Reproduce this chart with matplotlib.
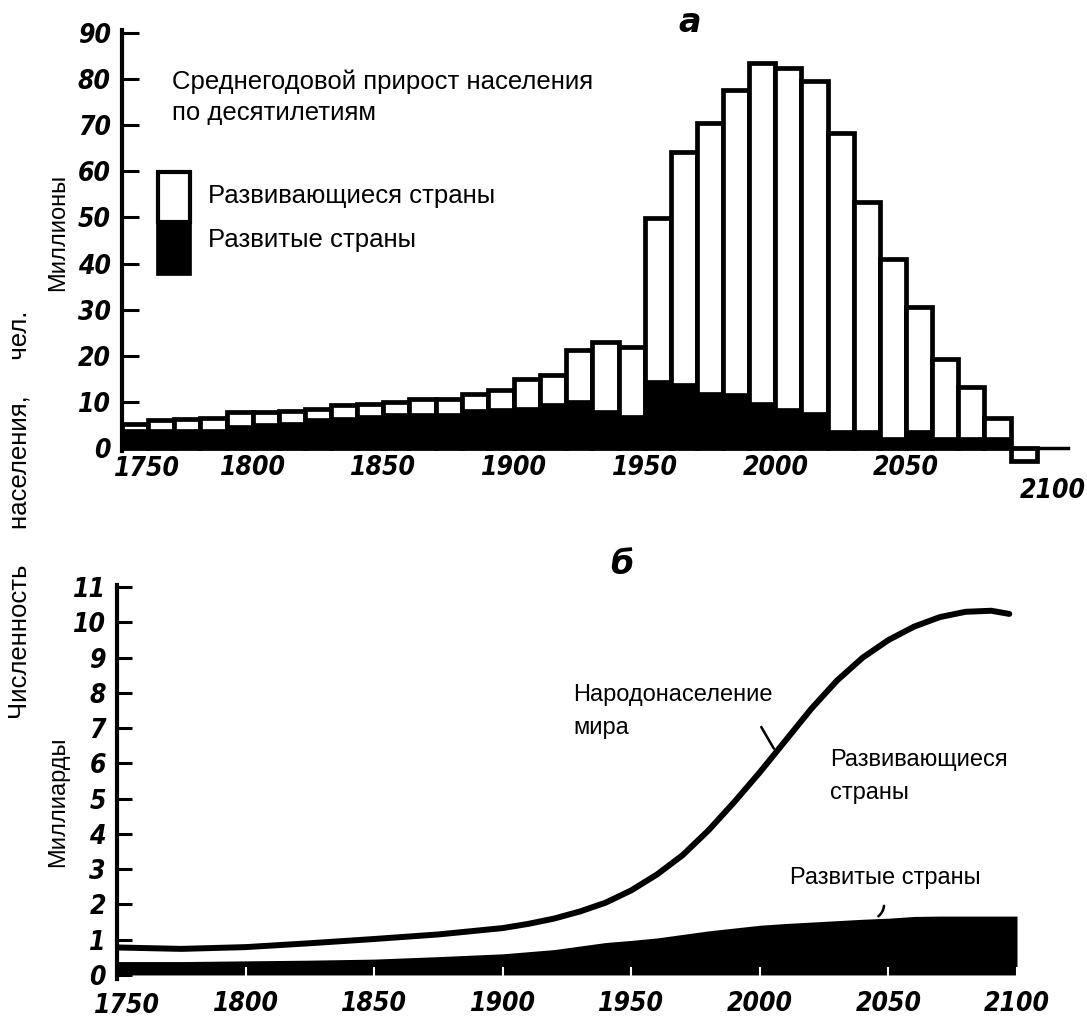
import numpy as np
import matplotlib
matplotlib.use("Agg")
import matplotlib.pyplot as plt
from matplotlib.patches import Rectangle
from matplotlib.font_manager import FontProperties

# panel a: mean annual growth by decade, millions
decades = list(range(1750, 2100, 10))
total_growth = [5.2, 6.1, 6.3, 6.5, 7.8, 7.8, 8.0, 8.5, 9.3, 9.5,
                10.0, 10.6, 10.6, 11.7, 12.6, 15.0, 15.8, 21.3, 23.0, 21.9,
                49.8, 64.3, 70.6, 77.7, 83.6, 82.4, 79.7, 68.4, 53.4, 40.9,
                30.5, 19.2, 13.2, 6.6, -2.8]
developed_growth = [4.1, 4.1, 4.1, 4.1, 5.0, 5.4, 5.6, 6.5, 6.7, 7.2,
                    7.6, 7.6, 7.6, 8.5, 8.7, 8.9, 9.8, 10.4, 8.2, 7.2,
                    14.8, 14.1, 12.1, 11.9, 10.0, 8.7, 7.8, 3.9, 3.9, 2.4,
                    3.9, 2.4, 2.4, 2.4, 0.0]
top_ticks = [0, 10, 20, 30, 40, 50, 60, 70, 80, 90]
top_xticks = [1750, 1800, 1850, 1900, 1950, 2000, 2050, 2100]

# panel b: population, billions
years = [1750, 1775, 1800, 1825, 1850, 1875, 1900, 1910, 1920, 1930, 1940,
         1950, 1960, 1970, 1980, 1990, 2000, 2010, 2020, 2030, 2040, 2050,
         2060, 2070, 2080, 2090, 2100]
world = [0.78, 0.74, 0.79, 0.9, 1.02, 1.15, 1.33, 1.45, 1.6, 1.8, 2.05,
         2.4, 2.85, 3.4, 4.1, 4.9, 5.75, 6.65, 7.55, 8.35, 9.0, 9.5,
         9.88, 10.15, 10.3, 10.33, 10.24]
developed = [0.38, 0.38, 0.40, 0.42, 0.45, 0.52, 0.60, 0.66, 0.72, 0.82, 0.92,
             0.98, 1.05, 1.15, 1.25, 1.33, 1.41, 1.46, 1.50, 1.54, 1.58, 1.61,
             1.66, 1.67, 1.67, 1.67, 1.67]
bottom_ticks = list(range(0, 12))
bottom_xticks = [1750, 1800, 1850, 1900, 1950, 2000, 2050, 2100]

W, H = 1087, 1035


def fx(x):
    return x / W


def fy(y):
    return 1 - y / H


num_font = FontProperties(family="DejaVu Sans", style="oblique", weight="bold",
                          stretch="condensed", size=19)
txt = dict(family="Liberation Sans", fontsize=18.5, color="black")
txt_b = dict(family="Liberation Sans", fontsize=17, color="black")

fig = plt.figure(figsize=(W / 100, H / 100), dpi=100)

# ---- panel a ----
ax1 = fig.add_axes([fx(122), fy(468), fx(1068) - fx(122), fy(30) - fy(468)])
ax1.bar(decades, total_growth, width=10, align="edge", color="white",
        edgecolor="black", linewidth=3.4, zorder=2)
ax1.bar(decades, developed_growth, width=10, align="edge", color="black",
        edgecolor="black", linewidth=0.5, zorder=3)
ax1.set_xlim(1750, 2112)
ax1.set_ylim(-4.34, 90.67)
for s in ["top", "right"]:
    ax1.spines[s].set_visible(False)
ax1.spines["left"].set_linewidth(3)
ax1.spines["left"].set_bounds(-0.7, 90.67)
ax1.spines["bottom"].set_position(("data", 0))
ax1.spines["bottom"].set_linewidth(2.5)
ax1.spines["bottom"].set_zorder(4)
ax1.set_yticks(top_ticks)
ax1.set_xticks(top_xticks[1:-1])
ax1.tick_params(axis="y", direction="in", length=12, width=2.2, pad=8)
ax1.tick_params(axis="x", length=0, pad=5)
for lab in ax1.get_yticklabels() + ax1.get_xticklabels():
    lab.set_fontproperties(num_font)
# end labels sit off their ticks in the original
ax1.annotate(str(top_xticks[0]), xy=(top_xticks[0], 0), xytext=(18, -15),
             textcoords="offset points", ha="center", va="center",
             fontproperties=num_font)
ax1.annotate(str(top_xticks[-1]), xy=(top_xticks[-1], 0), xytext=(12, -31),
             textcoords="offset points", ha="center", va="center",
             fontproperties=num_font)

# legend box
fig.add_artist(Rectangle((fx(158), fy(222)), fx(32), fy(172) - fy(222),
                         transform=fig.transFigure, facecolor="white",
                         edgecolor="black", linewidth=3))
fig.add_artist(Rectangle((fx(156), fy(275)), fx(35), fy(220) - fy(275),
                         transform=fig.transFigure, facecolor="black",
                         edgecolor="black", linewidth=0.5))
fig.text(fx(208), fy(196), "Развивающиеся страны", va="center", **txt)
fig.text(fx(208), fy(240), "Развитые страны", va="center", **txt)
fig.text(fx(172), fy(82), "Среднегодовой прирост населения", va="center", **txt)
fig.text(fx(172), fy(113), "по десятилетиям", va="center", **txt)
fig.text(fx(690), fy(22), "а", ha="center", va="center", fontsize=24,
         style="italic", weight="bold")

# ---- panel b ----
ax2 = fig.add_axes([fx(117), fy(978.5), fx(1017) - fx(117), fy(585) - fy(978.5)])
ax2.fill_between(years, 0, developed, color="black", linewidth=0)
ax2.plot(years[:-1] + [2097], world, color="black", linewidth=4.3,
         solid_capstyle="round", solid_joinstyle="round")
ax2.set_xlim(1750, 2100)
ax2.set_ylim(-0.1, 11.06)
for s in ["top", "right", "bottom"]:
    ax2.spines[s].set_visible(False)
ax2.spines["left"].set_linewidth(3)
ax2.set_yticks(bottom_ticks)
ax2.set_xticks(bottom_xticks)
ax2.set_xticklabels([""] + [str(v) for v in bottom_xticks[1:]])
ax2.tick_params(axis="y", direction="in", length=11, width=2.2, pad=8)
ax2.tick_params(axis="x", direction="in", length=9, width=1.5, color="white", pad=9)
for lab in ax2.get_yticklabels() + ax2.get_xticklabels():
    lab.set_fontproperties(num_font)
ax2.annotate(str(bottom_xticks[0]), xy=(bottom_xticks[0], 0), xytext=(7, -22),
             textcoords="offset points", ha="center", va="center",
             fontproperties=num_font)

ax2.annotate("", xy=(2006, 6.35), xytext=(2000, 7.1),
             arrowprops=dict(arrowstyle="-", color="black", linewidth=1.8))
ax2.annotate("", xy=(2045.2, 1.62), xytext=(2048.3, 2.04),
             arrowprops=dict(arrowstyle="-", color="black", linewidth=1.8,
                             connectionstyle="arc3,rad=-0.3"))
fig.text(fx(573), fy(695), "Народонаселение", va="center", **txt_b)
fig.text(fx(573), fy(728), "мира", va="center", **txt_b)
fig.text(fx(830), fy(760), "Развивающиеся", va="center", **txt_b)
fig.text(fx(830), fy(793), "страны", va="center", **txt_b)
fig.text(fx(790), fy(878), "Развитые страны", va="center", **txt_b)
fig.text(fx(622), fy(565), "б", ha="center", va="center", fontsize=24,
         style="italic", weight="bold")

# shared axis labels
fig.text(fx(58), fy(232), "Миллионы", rotation=90, ha="center", va="center", **txt_b)
fig.text(fx(58), fy(802), "Миллиарды", rotation=90, ha="center", va="center", **txt_b)
fig.text(fx(20), fy(515), "Численность     населения,     чел.", rotation=90,
         ha="center", va="center", **txt)

fig.savefig("out.png", dpi=100)
